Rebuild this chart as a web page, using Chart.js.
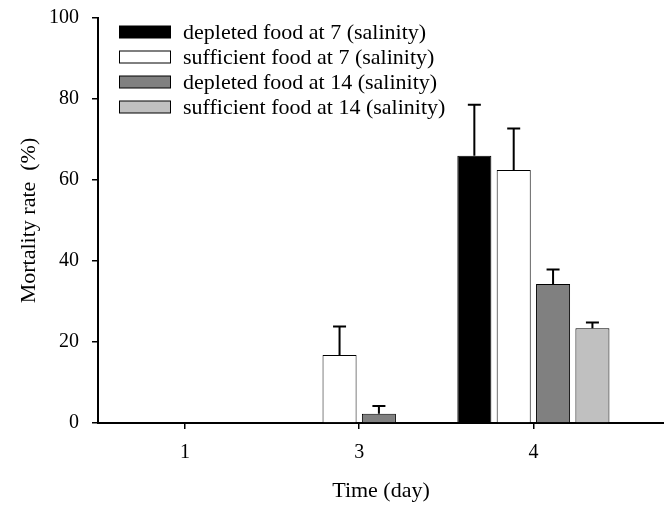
<!DOCTYPE html>
<html>
<head>
<meta charset="utf-8">
<script src="https://cdn.jsdelivr.net/npm/chart.js@4"></script>
<style>
  html, body { margin: 0; padding: 0; background: #fff; }
  #wrap { width: 664px; height: 507px; position: relative; }
</style>
</head>
<body>
<div id="wrap"><canvas id="chart"></canvas></div>
<script>
// day labels shown under ticks 1, 2, 3 of the x axis
const dayLabels = ['1', '3', '4'];
const seriesNames = [
  'depleted food at 7 (salinity)',
  'sufficient food at 7 (salinity)',
  'depleted food at 14 (salinity)',
  'sufficient food at 14 (salinity)'
];
// mortality (%) per day
const depleted7 = [0, 0, 66.0];
const sufficient7 = [0, 16.8, 62.5];
const depleted14 = [0, 2.3, 34.3];
const sufficient14 = [0, 0, 23.4];
// upper error (SE) per day
const depleted7Err = [0, 0, 12.6];
const sufficient7Err = [0, 7.0, 10.2];
const depleted14Err = [0, 1.9, 3.6];
const sufficient14Err = [0, 0, 1.4];

const fills = ['#000000', '#ffffff', '#808080', '#c0c0c0'];
const values = [depleted7, sufficient7, depleted14, sufficient14];
const errors = [depleted7Err, sufficient7Err, depleted14Err, sufficient14Err];

const FONT = '"Liberation Serif", "Times New Roman", serif';

const errorBars = {
  id: 'errorBars',
  afterDatasetsDraw(chart) {
    const ctx = chart.ctx;
    const y = chart.scales.y;
    ctx.save();
    ctx.strokeStyle = '#000';
    ctx.lineWidth = 2;
    chart.data.datasets.forEach((ds, i) => {
      const meta = chart.getDatasetMeta(i);
      meta.data.forEach((bar, j) => {
        const e = errors[i][j];
        if (!e) return;
        const top = y.getPixelForValue(ds.data[j].y + e);
        ctx.beginPath();
        ctx.moveTo(bar.x, bar.y);
        ctx.lineTo(bar.x, top);
        ctx.moveTo(bar.x - 6.5, top);
        ctx.lineTo(bar.x + 6.5, top);
        ctx.stroke();
      });
    });
    ctx.restore();
  }
};

const innerLegend = {
  id: 'innerLegend',
  afterDraw(chart) {
    const ctx = chart.ctx;
    ctx.save();
    ctx.font = '22px ' + FONT;
    ctx.textBaseline = 'middle';
    seriesNames.forEach((name, i) => {
      const cy = 32 + i * 25;
      ctx.fillStyle = fills[i];
      ctx.fillRect(119.5, cy - 6, 51, 12);
      ctx.strokeStyle = '#000';
      ctx.lineWidth = 1;
      ctx.strokeRect(119.5, cy - 6, 51, 12);
      ctx.fillStyle = '#000';
      ctx.fillText(name, 183, cy + 1);
    });
    ctx.restore();
  }
};

new Chart(document.getElementById('chart'), {
  type: 'bar',
  data: {
    datasets: values.map((vals, i) => ({
      label: seriesNames[i],
      data: vals.map((v, j) => ({ x: j + 1, y: v })),
      backgroundColor: fills[i],
      borderColor: '#000',
      borderWidth: 1,
      borderSkipped: 'bottom',
      categoryPercentage: 0.904,
      barPercentage: 0.865
    }))
  },
  options: {
    responsive: true,
    maintainAspectRatio: false,
    animation: false,
    layout: { padding: { top: 18, right: 0, left: 0, bottom: 0 } },
    plugins: {
      legend: { display: false },
      tooltip: { enabled: false }
    },
    scales: {
      x: {
        type: 'linear',
        min: 0.5,
        max: 3.75,
        offset: false,
        afterBuildTicks: (s) => { s.ticks = [{ value: 1 }, { value: 2 }, { value: 3 }]; },
        afterFit: (s) => { s.height = 84; s.paddingLeft = 0; s.paddingRight = 0; },
        grid: { offset: false, drawOnChartArea: false, drawTicks: true, tickLength: 6, color: '#000', lineWidth: 1.5 },
        border: { display: true, color: '#000', width: 2 },
        ticks: {
          color: '#000',
          font: { family: FONT, size: 20 },
          padding: 12,
          callback: (v) => dayLabels[v - 1]
        },
        title: {
          display: true,
          text: 'Time (day)',
          color: '#000',
          font: { family: FONT, size: 22 },
          padding: { top: 4, bottom: 3 }
        }
      },
      y: {
        min: 0,
        max: 100,
        afterFit: (s) => { s.width = 98; s.paddingTop = 0; s.paddingBottom = 0; },
        grid: { drawOnChartArea: false, drawTicks: true, tickLength: 6, color: '#000', lineWidth: 1.5 },
        border: { display: true, color: '#000', width: 2 },
        ticks: {
          stepSize: 20,
          color: '#000',
          font: { family: FONT, size: 20 },
          padding: 13
        },
        title: {
          display: true,
          text: 'Mortality rate  (%)',
          color: '#000',
          font: { family: FONT, size: 22 },
          padding: { top: 16, bottom: 4 }
        }
      }
    }
  },
  plugins: [errorBars, innerLegend]
});
</script>
</body>
</html>
